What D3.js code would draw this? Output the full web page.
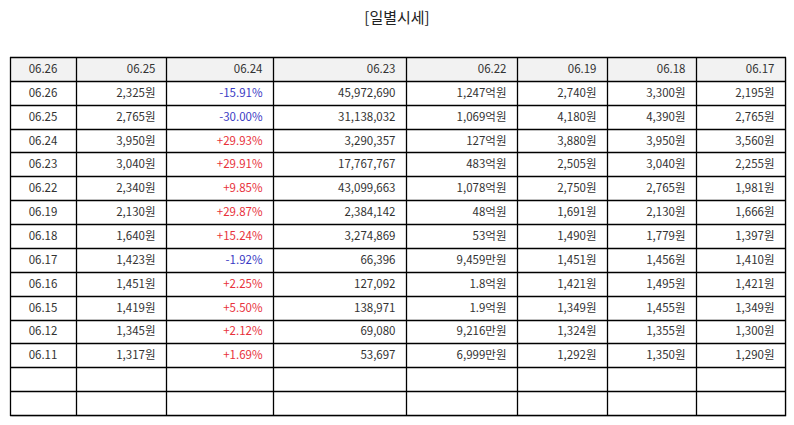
<!DOCTYPE html>
<html>
<head>
<meta charset="utf-8">
<script src="https://cdn.jsdelivr.net/npm/d3@7"></script>
<style>
  body { margin: 0; background: #fff; }
  svg { font-family: "Noto Sans CJK KR", "Noto Sans", sans-serif; }
</style>
</head>
<body>
<div class="chart"></div>
<script>
const headers = ["06.26", "06.25", "06.24", "06.23", "06.22", "06.19", "06.18", "06.17"];
const dates = ["06.26", "06.25", "06.24", "06.23", "06.22", "06.19", "06.18", "06.17", "06.16", "06.15", "06.12", "06.11"];
const closes = [2325, 2765, 3950, 3040, 2340, 2130, 1640, 1423, 1451, 1419, 1345, 1317];
const changes = [-15.91, -30.00, 29.93, 29.91, 9.85, 29.87, 15.24, -1.92, 2.25, 5.50, 2.12, 1.69];
const volumes = [45972690, 31138032, 3290357, 17767767, 43099663, 2384142, 3274869, 66396, 127092, 138971, 69080, 53697];
const amounts = ["1,247억원", "1,069억원", "127억원", "483억원", "1,078억원", "48억원", "53억원", "9,459만원", "1.8억원", "1.9억원", "9,216만원", "6,999만원"];
const opens = [2740, 4180, 3880, 2505, 2750, 1691, 1490, 1451, 1421, 1349, 1324, 1292];
const highs = [3300, 4390, 3950, 3040, 2765, 2130, 1779, 1456, 1495, 1455, 1355, 1350];
const lows = [2195, 2765, 3560, 2255, 1981, 1666, 1397, 1410, 1421, 1349, 1300, 1290];
const emptyRows = 2;

const width = 794, height = 425;
const margin = {left: 10, right: 785, top: 57, bottom: 415};
const colWidths = [66, 90, 107, 133, 111, 90, 89, 89];

const won = d3.format(",");
const rows = dates.map((d, i) => [
  {t: d},
  {t: won(closes[i]) + "원"},
  {t: (changes[i] > 0 ? "+" : "") + changes[i].toFixed(2) + "%", c: changes[i] < 0 ? "#3b3bc4" : "#e8323c"},
  {t: won(volumes[i])},
  {t: amounts[i]},
  {t: won(opens[i]) + "원"},
  {t: won(highs[i]) + "원"},
  {t: won(lows[i]) + "원"}
]);
for (let k = 0; k < emptyRows; k++) rows.push(headers.map(() => ({t: ""})));

const svg = d3.select(".chart").append("svg")
  .attr("width", width)
  .attr("height", height);

svg.append("text")
  .attr("x", width / 2)
  .attr("y", 23)
  .attr("text-anchor", "middle")
  .attr("font-size", 15)
  .attr("fill", "#222")
  .text("[일별시세]");

const allRows = [headers.map(h => ({t: h}))].concat(rows);

const edges = [0].concat(Array.from(d3.cumsum(colWidths)));
const x = d3.scaleLinear().domain([0, d3.sum(colWidths)]).range([margin.left, margin.right]);
const y = d3.scaleBand().domain(d3.range(allRows.length)).range([margin.top, margin.bottom]);

// subtle shadow
svg.append("rect")
  .attr("x", margin.left + 1.5).attr("y", margin.top + 1.5)
  .attr("width", margin.right - margin.left).attr("height", margin.bottom - margin.top)
  .attr("fill", "#ccc");

svg.append("rect")
  .attr("x", margin.left).attr("y", margin.top)
  .attr("width", margin.right - margin.left).attr("height", margin.bottom - margin.top)
  .attr("fill", "#fff");

svg.append("rect")
  .attr("x", margin.left).attr("y", margin.top)
  .attr("width", margin.right - margin.left).attr("height", y.bandwidth())
  .attr("fill", "#f2f2f2");

const rowG = svg.selectAll(".row")
  .data(allRows)
  .join("g")
  .attr("class", "row")
  .attr("transform", (d, i) => "translate(0," + y(i) + ")");

rowG.selectAll("text")
  .data(d => d)
  .join("text")
  .attr("x", (d, j) => j === 0 ? x((edges[j] + edges[j + 1]) / 2) : x(edges[j + 1]) - 10.5)
  .attr("y", y.bandwidth() / 2 + 4)
  .attr("text-anchor", (d, j) => j === 0 ? "middle" : "end")
  .attr("font-size", 11.5)
  .attr("fill", d => d.c || "#333")
  .text(d => d.t);

// grid lines
const rowEdges = d3.range(allRows.length).map(i => y(i)).concat([margin.bottom]);

svg.append("g").selectAll("line")
  .data(rowEdges)
  .join("line")
  .attr("x1", margin.left).attr("x2", margin.right + 1)
  .attr("y1", v => Math.round(v) + 0.5)
  .attr("y2", v => Math.round(v) + 0.5)
  .attr("stroke", "#000")
  .attr("stroke-width", 1.3);

svg.append("g").selectAll("line")
  .data(edges)
  .join("line")
  .attr("y1", margin.top).attr("y2", margin.bottom + 1)
  .attr("x1", e => Math.round(x(e)) + 0.5)
  .attr("x2", e => Math.round(x(e)) + 0.5)
  .attr("stroke", "#000")
  .attr("stroke-width", 1.3);
</script>
</body>
</html>
